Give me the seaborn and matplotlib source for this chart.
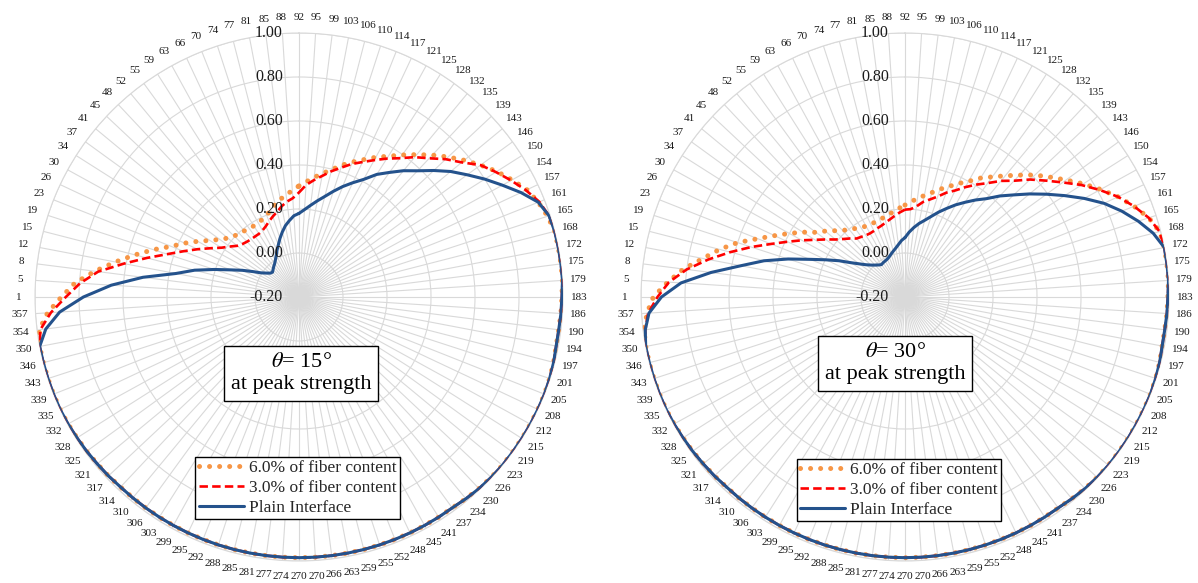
import numpy as np
import pandas as pd
import matplotlib
matplotlib.use("Agg")
import matplotlib.pyplot as plt
from matplotlib.lines import Line2D
from matplotlib import transforms
import seaborn as sns

# Direction labels (degrees), clockwise from the top of each radar
directions = [92, 95, 99, 103, 106, 110, 114, 117, 121, 125,
              128, 132, 135, 139, 143, 146, 150, 154, 157, 161,
              165, 168, 172, 175, 179, 183, 186, 190, 194, 197,
              201, 205, 208, 212, 215, 219, 223, 226, 230, 234,
              237, 241, 245, 248, 252, 255, 259, 263, 266, 270,
              270, 274, 277, 281, 285, 288, 292, 295, 299, 303,
              306, 310, 314, 317, 321, 325, 328, 332, 335, 339,
              343, 346, 350, 354, 357, 1, 5, 8, 12, 15,
              19, 23, 26, 30, 34, 37, 41, 45, 48, 52,
              55, 59, 63, 66, 70, 74, 77, 81, 85, 88]

radial_ticks = [-0.20, 0.00, 0.20, 0.40, 0.60, 0.80, 1.00]

series_names = ["6.0% of fiber content", "3.0% of fiber content", "Plain Interface"]
panel_titles = ["15", "30"]

# Shared envelope (directions 172 ... 350), identical for all three series
envelope_15 = [1.0, 1.0, 1.0, 0.995, 0.993, 0.99, 0.99, 0.995, 0.998, 1.0,
               1.0, 1.0, 1.0, 1.0, 1.0, 0.998, 0.995, 0.99, 0.985, 0.985,
               0.985, 0.985, 0.985, 0.985, 0.985, 0.985, 0.985, 0.985, 0.985, 0.985,
               0.985, 0.985, 0.985, 0.985, 0.985, 0.985, 0.985, 0.985, 0.985, 0.985,
               0.985, 0.988, 0.99, 0.993, 0.995, 0.998, 1.0, 1.0, 1.0, 1.0,
               1.0]
envelope_30 = [1.0, 1.0, 1.0, 0.995, 0.993, 0.99, 0.99, 0.995, 0.998, 1.0,
               1.0, 1.0, 1.0, 1.0, 1.0, 0.998, 0.995, 0.99, 0.985, 0.985,
               0.985, 0.985, 0.985, 0.985, 0.985, 0.985, 0.985, 0.985, 0.985, 0.985,
               0.985, 0.985, 0.985, 0.985, 0.985, 0.985, 0.985, 0.985, 0.985, 0.985,
               0.985, 0.988, 0.99, 0.993, 0.995, 0.998, 1.0, 1.0, 1.0, 1.0,
               1.0]

# theta = 15 deg: directions 92 ... 168 (head) and 354 ... 88 (tail)
fiber6_15_head = [0.305, 0.325, 0.348, 0.372, 0.398, 0.43, 0.46, 0.49, 0.525, 0.558,
                  0.598, 0.64, 0.685, 0.73, 0.775, 0.82, 0.865, 0.905, 0.945, 0.97,
                  0.988, 1.0]
fiber6_15_tail = [0.99, 0.945, 0.88, 0.82, 0.735, 0.65, 0.57, 0.496, 0.425, 0.375,
                  0.325, 0.28, 0.245, 0.22, 0.205, 0.195, 0.19, 0.185, 0.183, 0.185,
                  0.19, 0.2, 0.215, 0.235, 0.252, 0.268, 0.285]
fiber3_15_head = [0.275, 0.31, 0.335, 0.36, 0.39, 0.418, 0.45, 0.478, 0.51, 0.545,
                  0.58, 0.625, 0.665, 0.715, 0.76, 0.82, 0.86, 0.90, 0.94, 0.975,
                  0.995, 1.0]
fiber3_15_tail = [0.985, 0.93, 0.86, 0.797, 0.72, 0.61, 0.514, 0.43, 0.365, 0.31,
                  0.26, 0.218, 0.19, 0.165, 0.152, 0.145, 0.141, 0.14, 0.14, 0.145,
                  0.155, 0.17, 0.185, 0.2, 0.22, 0.237, 0.25]
plain_15_head = [0.18, 0.198, 0.22, 0.245, 0.272, 0.305, 0.34, 0.374, 0.41, 0.46,
                 0.50, 0.545, 0.587, 0.64, 0.695, 0.745, 0.80, 0.855, 0.915, 0.97,
                 0.995, 1.0]
plain_15_tail = [0.96, 0.89, 0.78, 0.655, 0.515, 0.37, 0.29, 0.205, 0.135, 0.085,
                 0.04, 0.005, -0.015, -0.03, -0.035, -0.028, -0.02, -0.012, 0.0, 0.015,
                 0.035, 0.055, 0.08, 0.105, 0.13, 0.15, 0.17]

# theta = 30 deg
fiber6_30_head = [0.218, 0.235, 0.25, 0.27, 0.29, 0.315, 0.34, 0.37, 0.40, 0.44,
                  0.475, 0.515, 0.56, 0.61, 0.655, 0.705, 0.76, 0.815, 0.87, 0.92,
                  0.965, 0.995]
fiber6_30_tail = [0.995, 0.975, 0.944, 0.88, 0.815, 0.735, 0.67, 0.60, 0.52, 0.455,
                  0.40, 0.35, 0.30, 0.27, 0.24, 0.215, 0.198, 0.185, 0.175, 0.167,
                  0.165, 0.167, 0.17, 0.175, 0.183, 0.193, 0.205]
fiber3_30_head = [0.197, 0.2, 0.215, 0.24, 0.258, 0.28, 0.31, 0.335, 0.37, 0.405,
                  0.44, 0.485, 0.525, 0.58, 0.63, 0.686, 0.75, 0.81, 0.87, 0.92,
                  0.965, 0.995]
fiber3_30_tail = [0.99, 0.97, 0.925, 0.875, 0.80, 0.71, 0.62, 0.535, 0.455, 0.39,
                  0.335, 0.285, 0.245, 0.21, 0.185, 0.165, 0.145, 0.138, 0.132, 0.13,
                  0.132, 0.137, 0.142, 0.15, 0.16, 0.172, 0.185]
plain_30_head = [0.07, 0.095, 0.118, 0.14, 0.16, 0.185, 0.215, 0.245, 0.278, 0.31,
                 0.345, 0.38, 0.43, 0.478, 0.535, 0.595, 0.66, 0.73, 0.80, 0.86,
                 0.915, 0.965]
plain_30_tail = [0.99, 0.966, 0.907, 0.82, 0.689, 0.559, 0.462, 0.359, 0.265, 0.197,
                 0.142, 0.091, 0.056, 0.03, 0.012, -0.001, -0.011, -0.018, -0.015, -0.013,
                 -0.01, -0.004, 0.005, 0.015, 0.026, 0.04, 0.057]

panels = [
    (fiber6_15_head + envelope_15 + fiber6_15_tail,
     fiber3_15_head + envelope_15 + fiber3_15_tail,
     plain_15_head + envelope_15 + plain_15_tail),
    (fiber6_30_head + envelope_30 + fiber6_30_tail,
     fiber3_30_head + envelope_30 + fiber3_30_tail,
     plain_30_head + envelope_30 + plain_30_tail),
]

sns.set_theme(style="white")
plt.rcParams["font.family"] = ["Liberation Serif", "DejaVu Serif"]
plt.rcParams["mathtext.fontset"] = "stix"

GRID = "#d9d9d9"
TEXT = "#1a1a1a"
styles = [
    dict(color="#f79646", lw=3.6, linestyle=(0, (0.01, 2.0)), dash_capstyle="round"),
    dict(color="#ff0000", lw=1.9, linestyle=(0, (3.2, 1.6)), dash_capstyle="butt"),
    dict(color="#24528c", lw=2.2, linestyle="-", solid_joinstyle="round"),
]

n = len(directions)
theta = np.arange(n) * 2 * np.pi / n
theta_closed = np.append(theta, 2 * np.pi)

W, H = 1198, 583
fig = plt.figure(figsize=(W / 100, H / 100), dpi=100)

R_PX = 264
centers = [(299, 297), (905, 297)]
box_centers = [(301, 373.5), (895, 363.5)]
legend_centers = [(297.5, 488), (899, 490)]

for (cx, cy), title, (bx, by), (lx, ly), series in zip(
        centers, panel_titles, box_centers, legend_centers, panels):
    ax = fig.add_axes([(cx - R_PX) / W, (H - cy - R_PX) / H, 2 * R_PX / W, 2 * R_PX / H],
                      projection="polar")
    ax.set_theta_zero_location("N")
    ax.set_theta_direction(-1)

    for values, st, name in zip(series, styles, series_names):
        df = pd.DataFrame({"angle": theta_closed, "value": np.append(values, values[0])})
        sns.lineplot(data=df, x="angle", y="value", ax=ax, sort=False,
                     errorbar=None, legend=False, zorder=3, **st)

    ax.set_ylim(-0.2, 1.0)
    ax.set_yticks(radial_ticks)
    ax.set_yticklabels([])
    ax.set_xticks(theta)
    ax.set_xticklabels([str(d) for d in directions], fontsize=8, color=TEXT)
    ax.tick_params(axis="x", pad=-1.5)
    ax.grid(True, color=GRID, lw=0.8)
    ax.spines["polar"].set_color(GRID)
    ax.spines["polar"].set_linewidth(0.8)
    ax.set_xlabel("")
    ax.set_ylabel("")

    # value-axis labels left of the vertical spoke
    lab_tr = transforms.offset_copy(ax.transData, fig=fig, x=-16, y=0, units="dots")
    for v in radial_ticks:
        ax.text(0, v, f"{v:.2f}", transform=lab_tr, ha="right", va="center",
                fontsize=11.5, color=TEXT, zorder=4)

    ax.text((bx - cx + R_PX) / (2 * R_PX), 1 - (by - cy + R_PX) / (2 * R_PX),
            r"$\theta$= " + title + "°\nat peak strength",
            transform=ax.transAxes, ha="center", va="center", fontsize=16,
            linespacing=1.2, color="black", zorder=5,
            bbox=dict(boxstyle="square,pad=0.3", fc="white", ec="black", lw=1.0))

    handles = [Line2D([0], [0], **st) for st in styles]
    leg = ax.legend(handles, series_names, loc="center",
                    bbox_to_anchor=((lx - cx + R_PX) / (2 * R_PX), 1 - (ly - cy + R_PX) / (2 * R_PX)),
                    frameon=True, fancybox=False, framealpha=1, edgecolor="black",
                    fontsize=12.5, handlelength=2.6, handletextpad=0.3,
                    borderpad=0.2, labelspacing=0.2, borderaxespad=0)
    leg.get_frame().set_linewidth(1.0)
    leg.set_zorder(6)

fig.savefig("out.png", dpi=100)
